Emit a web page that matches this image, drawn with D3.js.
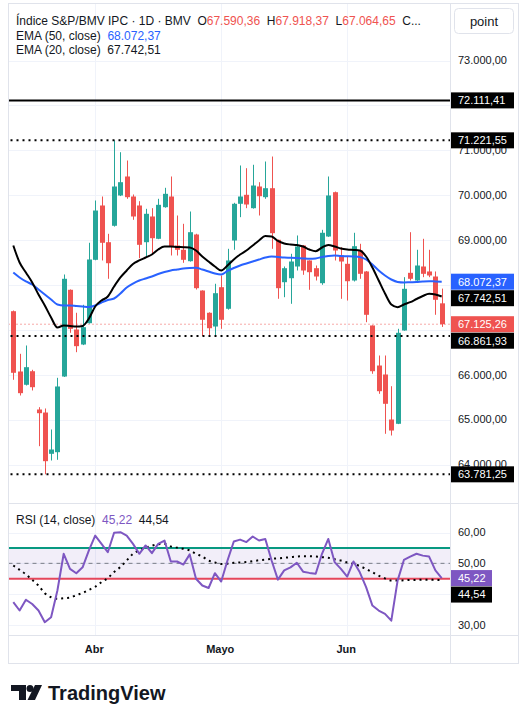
<!DOCTYPE html>
<html>
<head>
<meta charset="utf-8">
<style>
  body { margin: 0; background: #fff; }
  svg { display: block; font-family: "Liberation Sans", Arial, sans-serif; }
  .tick-label { font-size: 11px; fill: #131722; }
  .legend { font-size: 12px; fill: #131722; white-space: pre; }
</style>
</head>
<body>
<script src="https://cdn.jsdelivr.net/npm/d3@7"></script>
<script>
// daily candles, mid March .. late June (index = trading day)
var opens  = [67415,66072,65776,66078,65225,65158,64238,64274,65960,67892,67007,66673,67148,68560,69770,68952,69318,69993,70416,69970,
              69770,68952,69525,69028,69732,69970,68879,68783,68529,69124,67876,67380,67074,67950,67469,68990,69808,70008,69710,70193,
              69955,70155,69006,68061,68150,68411,68879,68545,68373,68039,69079,70066,68656,68471,68099,68767,68300,67097,66205,66005,
              65002,64907,66985,68270,68099,68411,68300,68188,67590.36];
var highs  = [67430,66466,66651,66110,65277,65248,64780,65931,68233,67900,67380,67558,68939,69881,69970,69139,71221.55,70957,70772,70015,
              69866,69696,69710,69919,70164,70416,69547,69362,69636,69140,67880,67390,68026,68210,68805,69830,70661,70601,70677,70289,
              70750,70861,69010,68411,68694,69102,68890,68550,68433,69228,70416,70080,68841,68634,69162,68917,68310,67100,66428,66428,
              65744,67023,68173,69175,68783,69028,68783,68300,67918.37];
var lows   = [65887,65537,65760,65649,64408,63781.25,64089,64105,65950,66934,66502,66660,67140,68550,68545,68137,69300,69980,69919,69451,
              68596,68618,68707,69020,69720,68656,68656,68493,68520,67898,66861.93,66880,66874,67023,67450,68783,69510,69710,69700,69547,
              69919,68805,67692,67727,67580,68322,68226,67892,68099,68003,69070,68545,67691,67653,68077,68137,67170,66021,65575,64684,
              64646,64900,66980,68099,68090,68173,68173,67335,67064.65];
var closes = [66043,65589,66168,65722,65143,64074,64334,65738,68137,67023,66636,67059,68567,69658,68939,68484,70193,70289,69955,69525,
              68894,69585,69041,69785,70030,68857,68783,68560,69175,67928,67224,67036,67816,67224,68545,69808,69970,69792,70215,69977,
              70155,69153,67928,68373,68522,68857,68322,68284,68188,69162,69993,68767,68522,68083,68863,68248,67335,66078,65633,65352,
              64757,66934,67914,68137,68433,68248,68211,67669,67125.26];

var ema20 = [68879,68500,68277,68055,67787,67542,67275,67052,67097,67086,67074,67086,67253,67520,67654,67743,67965,68166,68322,68467,
             68545,68611,68678,68790,68856,68856,68845,68841,68834,68767,68634,68522,68411,68322,68433,68567,68678,68767,68879,68990,
             69090,69079,68979,68923,68901,68890,68856,68790,68752,68834,68890,68856,68812,68790,68779,68767,68634,68389,68099,67809,
             67564,67504,67564,67616,67687,67754,67803,67787,67742.51];
var ema50 = [68277,68166,68077,68010,67899,67787,67676,67564,67542,67542,67531,67520,67509,67542,67609,67665,67698,67809,67943,68032,
             68099,68144,68188,68244,68288,68322,68344,68366,68377,68382,68344,68300,68255,68233,68311,68377,68433,68478,68522,68567,
             68611,68634,68623,68611,68605,68598,68589,68582,68589,68623,68645,68656,68645,68640,68634,68623,68567,68456,68322,68210,
             68121,68066,68055,68061,68066,68077,68083,68077,68072.37];

var rsi   = [37.4,34.7,38.2,36.8,34.7,30.9,32.5,41.2,53.1,48.2,46.8,48.7,54.2,59.0,56.3,53.6,59.9,60.1,59.0,56.3,
             53.1,55.8,53.3,56.3,57.4,50.6,50.6,49.6,52.9,45.0,42.8,42.0,46.8,44.1,50.9,57.1,57.7,56.9,58.7,57.4,
             57.9,50.9,44.7,47.7,48.7,50.2,47.3,46.9,46.6,53.1,57.9,50.4,48.2,45.7,50.6,47.1,42.3,36.3,34.7,33.6,
             31.4,44.4,51.1,52.2,53.1,52.5,52.2,47.7,45.22];
var rsiMa = [49.3,47.9,46.4,44.6,42.8,40.3,39.0,38.5,38.7,38.9,39.7,40.4,41.4,42.4,43.9,45.2,47.2,48.8,50.9,53.1,
             54.2,55.1,55.7,56.2,56.3,55.5,55.1,54.7,54.2,53.1,52.2,50.9,50.3,49.8,49.9,50.2,50.3,50.4,50.7,51.0,
             51.2,51.5,51.6,51.8,52.0,52.2,52.3,52.3,52.2,52.0,51.8,51.3,50.9,50.3,49.8,49.1,48.2,47.1,46.0,45.1,
             44.4,44.4,44.5,44.6,44.6,44.7,44.7,44.6,44.54];

var monthLabels = ["Abr", "Mayo", "Jun"];
var monthStarts = [13, 33, 53];
var priceTicks = [64000, 65000, 66000, 67000, 68000, 69000, 70000, 71000, 72000, 73000];
var rsiTicks = [30, 40, 50, 60];
var dottedLevels = [71221.55, 66861.93, 63781.25];
var solidLevels = [72111.41];
var rsiBands = [45, 50, 55];

(function() {
var W = 528, H = 709;
var padL = 8.5, padR = 450, padT = 3.5, paneSplit = 503.5, rsiBottom = 635.5, padB = 663.5, outerRight = 518.5;
var green = "#26a69a", red = "#ef5350", blue = "#2962ff", purple = "#7e57c2", grid = "#f0f3fa", border = "#e0e3eb";

var es = d3.formatLocale({decimal: ",", thousands: ".", grouping: [3], currency: ["", ""]});
var fmt = es.format(",.2f");

var svg = d3.select("body").append("svg").attr("width", W).attr("height", H);

var x = d3.scaleLinear().domain([0, opens.length - 1]).range([13.3, 441.7]);
var y = d3.scaleLinear().domain([64000, 73000]).range([464.5, 60.5]);
var yr = d3.scaleLinear().domain([30, 60]).range([625, 532.5]);

var defs = svg.append("defs");
defs.append("clipPath").attr("id", "clipPrice")
    .append("rect").attr("x", padL).attr("y", padT).attr("width", padR - padL).attr("height", paneSplit - padT);
defs.append("clipPath").attr("id", "clipRsi")
    .append("rect").attr("x", padL).attr("y", paneSplit).attr("width", padR - padL).attr("height", rsiBottom - paneSplit);

// grid
var g = svg.append("g");
g.selectAll(".hg").data(priceTicks).enter().append("line")
    .attr("x1", padL).attr("x2", padR).attr("y1", function(d) { return Math.round(y(d)) + 0.5; })
    .attr("y2", function(d) { return Math.round(y(d)) + 0.5; }).attr("stroke", grid);
g.selectAll(".rg").data(rsiTicks).enter().append("line")
    .attr("x1", padL).attr("x2", padR).attr("y1", function(d) { return Math.round(yr(d)) + 0.5; })
    .attr("y2", function(d) { return Math.round(yr(d)) + 0.5; }).attr("stroke", grid);
g.selectAll(".vg").data(monthStarts).enter().append("line")
    .attr("x1", function(d) { return Math.round(x(d)) + 0.5; }).attr("x2", function(d) { return Math.round(x(d)) + 0.5; })
    .attr("y1", padT).attr("y2", rsiBottom).attr("stroke", grid);

// price pane
var pp = svg.append("g").attr("clip-path", "url(#clipPrice)");

pp.append("line").attr("x1", padL).attr("x2", padR)
    .attr("y1", y(closes[closes.length - 1])).attr("y2", y(closes[closes.length - 1]))
    .attr("stroke", red).attr("stroke-width", 1).attr("stroke-dasharray", "1,3");

var candles = pp.selectAll(".c").data(opens).enter().append("g");
candles.append("line")
    .attr("x1", function(d, i) { return Math.round(x(i)) + 0.5; })
    .attr("x2", function(d, i) { return Math.round(x(i)) + 0.5; })
    .attr("y1", function(d, i) { return y(highs[i]); })
    .attr("y2", function(d, i) { return y(lows[i]); })
    .attr("stroke", function(d, i) { return closes[i] >= d ? green : red; });
candles.append("rect")
    .attr("x", function(d, i) { return Math.round(x(i)) - 2; })
    .attr("width", 5)
    .attr("y", function(d, i) { return y(Math.max(d, closes[i])); })
    .attr("height", function(d, i) { return Math.max(1, Math.abs(y(d) - y(closes[i]))); })
    .attr("fill", function(d, i) { return closes[i] >= d ? green : red; });

function smooth(scale) {
    return d3.line().x(function(d, i) { return x(i); }).y(function(d) { return scale(d); }).curve(d3.curveMonotoneX);
}
pp.append("path").datum(ema50).attr("fill", "none").attr("stroke", blue).attr("stroke-width", 2).attr("d", smooth(y));
pp.append("path").datum(ema20).attr("fill", "none").attr("stroke", "#000").attr("stroke-width", 2).attr("d", smooth(y));

pp.selectAll(".sl").data(solidLevels).enter().append("line")
    .attr("x1", padL).attr("x2", padR).attr("y1", function(d) { return y(d); }).attr("y2", function(d) { return y(d); })
    .attr("stroke", "#000").attr("stroke-width", 2);
pp.selectAll(".dl").data(dottedLevels).enter().append("line")
    .attr("x1", padL + 2).attr("x2", padR).attr("y1", function(d) { return y(d); }).attr("y2", function(d) { return y(d); })
    .attr("stroke", "#000").attr("stroke-width", 2).attr("stroke-dasharray", "2,4");

// rsi pane
var rp = svg.append("g").attr("clip-path", "url(#clipRsi)");
rp.append("rect").attr("x", padL).attr("width", padR - padL)
    .attr("y", yr(rsiBands[2])).attr("height", yr(rsiBands[0]) - yr(rsiBands[2]))
    .attr("fill", purple).attr("fill-opacity", 0.1);
rp.append("line").attr("x1", padL).attr("x2", padR).attr("y1", yr(rsiBands[1])).attr("y2", yr(rsiBands[1]))
    .attr("stroke", "#787b86").attr("stroke-dasharray", "4,4");
rp.append("line").attr("x1", padL).attr("x2", padR).attr("y1", yr(rsiBands[2])).attr("y2", yr(rsiBands[2]))
    .attr("stroke", "#089981").attr("stroke-width", 2);
rp.append("line").attr("x1", padL).attr("x2", padR).attr("y1", yr(rsiBands[0])).attr("y2", yr(rsiBands[0]))
    .attr("stroke", "#e5465b").attr("stroke-width", 2);
rp.append("path").datum(rsiMa).attr("fill", "none").attr("stroke", "#000").attr("stroke-width", 2)
    .attr("stroke-dasharray", "2,4").attr("d", smooth(yr));
rp.append("path").datum(rsi).attr("fill", "none").attr("stroke", purple).attr("stroke-width", 2)
    .attr("stroke-linejoin", "round").attr("d", d3.line().x(function(d, i) { return x(i); }).y(function(d) { return yr(d); }));

// frame and separators
svg.append("rect").attr("x", padL).attr("y", padT).attr("width", outerRight - padL).attr("height", padB - padT)
    .attr("fill", "none").attr("stroke", border);
[paneSplit, rsiBottom].forEach(function(v) {
    svg.append("line").attr("x1", padL).attr("x2", outerRight).attr("y1", v).attr("y2", v).attr("stroke", border);
});
svg.append("line").attr("x1", padR + 0.5).attr("x2", padR + 0.5).attr("y1", padT).attr("y2", padB).attr("stroke", border);

// label boxes on the price scale
var priceBoxes = solidLevels.concat(dottedLevels).map(function(v) { return {v: v, c: "#000"}; });
priceBoxes.push({v: ema50[ema50.length - 1], c: blue});
priceBoxes.push({v: ema20[ema20.length - 1], c: "#000"});
priceBoxes.push({v: closes[closes.length - 1], c: red});

// price axis: ticks that sit fully under a box are not drawn (as on the reference)
var visibleTicks = priceTicks.filter(function(t) {
    return !priceBoxes.some(function(b) { return Math.abs(y(b.v) - y(t)) < 8; });
});
svg.selectAll(".pt").data(visibleTicks).enter().append("text").attr("class", "tick-label")
    .attr("x", 458).attr("y", function(d) { return y(d); }).attr("dy", "0.35em").text(fmt);
svg.selectAll(".rt").data(rsiTicks.filter(function(d) { return d !== 40; })).enter().append("text").attr("class", "tick-label")
    .attr("x", 458).attr("y", function(d) { return yr(d); }).attr("dy", "0.35em").text(fmt);

function placeBoxes(items, scale, w) {
    items.sort(function(a, b) { return b.v - a.v; });
    var prev = -Infinity;
    items.forEach(function(d) {
        d.cy = Math.max(scale(d.v), prev + 16.5);
        prev = d.cy;
    });
    var bx = svg.append("g").selectAll("g").data(items).enter().append("g");
    bx.append("rect").attr("x", 451).attr("y", function(d) { return d.cy - 8; })
        .attr("width", w).attr("height", 16).attr("fill", function(d) { return d.c; });
    bx.append("text").attr("class", "tick-label").style("fill", "#fff")
        .attr("x", 458).attr("y", function(d) { return d.cy; }).attr("dy", "0.35em")
        .text(function(d) { return fmt(d.v); });
}
placeBoxes(priceBoxes, y, 63);
placeBoxes([{v: rsi[rsi.length - 1], c: purple}, {v: rsiMa[rsiMa.length - 1], c: "#000"}], yr, 41);

// time axis
svg.selectAll(".tl").data(monthStarts).enter().append("text")
    .attr("x", function(d) { return x(d) - 1; }).attr("y", 649).attr("dy", "0.35em")
    .attr("text-anchor", "middle").style("font-size", "11px").style("font-weight", "bold").style("fill", "#131722")
    .text(function(d, i) { return monthLabels[i]; });

// legends
var n = opens.length - 1;
var l1 = svg.append("text").attr("class", "legend").attr("x", 16).attr("y", 25);
l1.append("tspan").text("Índice S&P/BMV IPC · 1D · BMV  ");
[["O", opens[n]], ["H", highs[n]], ["L", lows[n]]].forEach(function(p) {
    l1.append("tspan").text(p[0]);
    l1.append("tspan").style("fill", red).text(fmt(p[1]) + "  ");
});
l1.append("tspan").text("C...");
var l2 = svg.append("text").attr("class", "legend").attr("x", 16).attr("y", 39.5);
l2.append("tspan").text("EMA (50, close)  ");
l2.append("tspan").style("fill", blue).text(fmt(ema50[n]));
var l3 = svg.append("text").attr("class", "legend").attr("x", 16).attr("y", 54);
l3.append("tspan").text("EMA (20, close)  " + fmt(ema20[n]));
var l4 = svg.append("text").attr("class", "legend").attr("x", 16).attr("y", 523.5);
l4.append("tspan").text("RSI (14, close)  ");
l4.append("tspan").style("fill", purple).text(fmt(rsi[n]) + "  ");
l4.append("tspan").text(fmt(rsiMa[n]));

// scale mode button
svg.append("rect").attr("x", 454.5).attr("y", 8.5).attr("width", 59).attr("height", 25).attr("rx", 4)
    .attr("fill", "#fff").attr("stroke", border);
svg.append("text").attr("x", 484).attr("y", 21).attr("dy", "0.35em").attr("text-anchor", "middle")
    .style("font-size", "13px").style("fill", "#131722").text("point");

// logo
var logo = svg.append("g").attr("fill", "#131722");
logo.append("path").attr("d", "M11,685 H26 V700 H19 V691 H11 Z");
logo.append("circle").attr("cx", 30).attr("cy", 688.5).attr("r", 3.5);
logo.append("path").attr("d", "M35,685 H42 L35,700 H27.5 Z");
svg.append("text").attr("x", 48).attr("y", 699.5).style("font-size", "20px").style("font-weight", "bold")
    .style("fill", "#131722").text("TradingView");
})();
</script>
</body>
</html>
